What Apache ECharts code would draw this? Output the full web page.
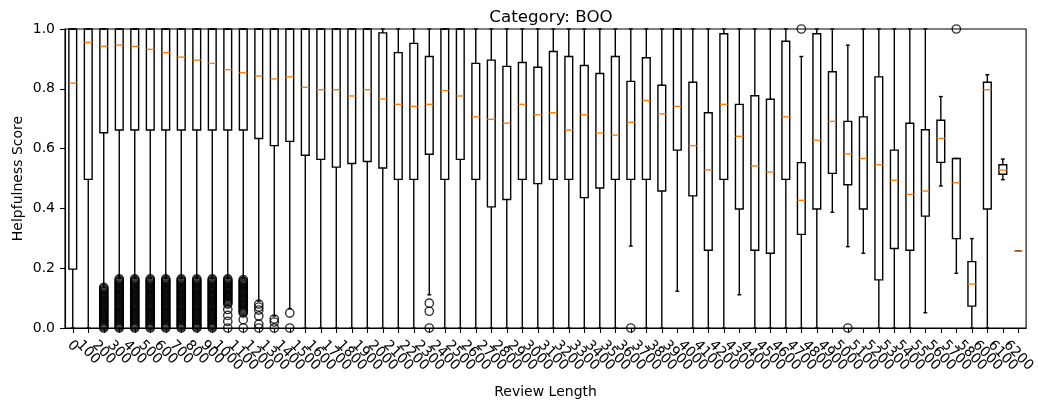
<!DOCTYPE html>
<html>
<head>
<meta charset="utf-8">
<script src="https://cdn.jsdelivr.net/npm/echarts@6/dist/echarts.min.js"></script>
<style>
html,body{margin:0;padding:0;background:#fff;}
#chart{width:1038px;height:407px;}
</style>
</head>
<body>
<div id="chart"></div>
<script>
// Review length categories (5900 is absent in the source)
const categories = ['0','100','200','300','400','500','600','700','800','900',
  '1000','1100','1200','1300','1400','1500','1600','1700','1800','1900',
  '2000','2100','2200','2300','2400','2500','2600','2700','2800','2900',
  '3000','3100','3200','3300','3400','3500','3600','3700','3800','3900',
  '4000','4100','4200','4300','4400','4500','4600','4700','4800','4900',
  '5000','5100','5200','5300','5400','5500','5600','5700','5800','6000',
  '6100','6200'];

// [lower whisker, Q1, median, Q3, upper whisker]
const boxStats = [
  [0, 0.197, 0.819, 1, 1],
  [0, 0.497, 0.955, 1, 1],
  [0.137, 0.653, 0.942, 1, 1],
  [0.167, 0.662, 0.946, 1, 1],
  [0.167, 0.662, 0.942, 1, 1],
  [0.167, 0.662, 0.932, 1, 1],
  [0.167, 0.662, 0.921, 1, 1],
  [0.167, 0.662, 0.906, 1, 1],
  [0.167, 0.662, 0.896, 1, 1],
  [0.167, 0.662, 0.885, 1, 1],
  [0.167, 0.662, 0.864, 1, 1],
  [0.167, 0.662, 0.854, 1, 1],
  [0.09, 0.634, 0.843, 1, 1],
  [0.04, 0.610, 0.833, 1, 1],
  [0.065, 0.624, 0.840, 1, 1],
  [0, 0.578, 0.805, 1, 1],
  [0, 0.564, 0.797, 1, 1],
  [0, 0.538, 0.797, 1, 1],
  [0, 0.550, 0.776, 1, 1],
  [0, 0.557, 0.797, 1, 1],
  [0, 0.535, 0.766, 0.987, 1],
  [0, 0.497, 0.748, 0.921, 1],
  [0, 0.497, 0.741, 0.952, 1],
  [0.111, 0.581, 0.748, 0.908, 1],
  [0, 0.497, 0.794, 1, 1],
  [0, 0.564, 0.776, 1, 1],
  [0, 0.497, 0.706, 0.885, 1],
  [0, 0.405, 0.698, 0.896, 1],
  [0, 0.430, 0.685, 0.875, 1],
  [0, 0.497, 0.748, 0.888, 1],
  [0, 0.483, 0.713, 0.872, 1],
  [0, 0.497, 0.720, 0.925, 1],
  [0, 0.497, 0.662, 0.908, 1],
  [0, 0.436, 0.713, 0.878, 1],
  [0, 0.468, 0.652, 0.851, 1],
  [0, 0.497, 0.645, 0.908, 1],
  [0.274, 0.497, 0.688, 0.825, 1],
  [0, 0.497, 0.761, 0.904, 1],
  [0, 0.458, 0.716, 0.812, 1],
  [0.123, 0.595, 0.741, 1, 1],
  [0, 0.442, 0.610, 0.822, 1],
  [0, 0.260, 0.529, 0.720, 1],
  [0, 0.497, 0.748, 0.984, 1],
  [0.111, 0.398, 0.641, 0.748, 1],
  [0, 0.260, 0.542, 0.777, 1],
  [0, 0.250, 0.522, 0.765, 1],
  [0, 0.497, 0.706, 0.959, 1],
  [0, 0.313, 0.427, 0.553, 0.908],
  [0, 0.398, 0.628, 0.984, 1],
  [0.387, 0.517, 0.691, 0.857, 1],
  [0.272, 0.479, 0.582, 0.691, 0.946],
  [0.250, 0.398, 0.567, 0.706, 1],
  [0, 0.161, 0.546, 0.840, 1],
  [0, 0.266, 0.494, 0.595, 1],
  [0, 0.260, 0.447, 0.685, 1],
  [0.051, 0.374, 0.458, 0.663, 1],
  [0.475, 0.554, 0.634, 0.695, 0.774],
  [0.183, 0.299, 0.486, 0.567, 0.567],
  [0, 0.073, 0.147, 0.222, 0.299],
  [0, 0.398, 0.797, 0.822, 0.847],
  [0.496, 0.514, 0.528, 0.546, 0.565],
  [0.257, 0.257, 0.257, 0.257, 0.257]
];

// Outlier values (dense low-score clusters)
const denseFull = [0, 0.004, 0.008, 0.012, 0.016, 0.02, 0.024, 0.028, 0.032, 0.036,
  0.04, 0.044, 0.048, 0.052, 0.056, 0.06, 0.064, 0.068, 0.072, 0.076, 0.08, 0.084,
  0.088, 0.092, 0.096, 0.1, 0.104, 0.108, 0.112, 0.116, 0.12, 0.124, 0.128, 0.132,
  0.136, 0.14, 0.144, 0.148, 0.152, 0.156, 0.16, 0.164];
const dense200 = [0, 0.004, 0.008, 0.012, 0.016, 0.02, 0.024, 0.028, 0.032, 0.036,
  0.04, 0.044, 0.048, 0.052, 0.056, 0.06, 0.064, 0.068, 0.072, 0.076, 0.08, 0.084,
  0.088, 0.092, 0.096, 0.1, 0.104, 0.108, 0.112, 0.116, 0.12, 0.124, 0.128, 0.132, 0.136];
const dense1000 = [0, 0.022, 0.042, 0.062, 0.08, 0.084, 0.088, 0.092, 0.096, 0.1,
  0.104, 0.108, 0.112, 0.116, 0.12, 0.124, 0.128, 0.132, 0.136, 0.14, 0.144, 0.148,
  0.152, 0.156, 0.16, 0.164];
const dense1100 = [0, 0.028, 0.05, 0.054, 0.058, 0.062, 0.066, 0.07, 0.074, 0.078,
  0.082, 0.086, 0.09, 0.094, 0.098, 0.102, 0.106, 0.11, 0.114, 0.118, 0.122, 0.126,
  0.13, 0.134, 0.138, 0.142, 0.146, 0.15, 0.154, 0.158, 0.162];
const outliers = [
  ['200', dense200], ['300', denseFull], ['400', denseFull], ['500', denseFull],
  ['600', denseFull], ['700', denseFull], ['800', denseFull], ['900', denseFull],
  ['1000', dense1000], ['1100', dense1100],
  ['1200', [0, 0.013, 0.04, 0.06, 0.07, 0.08]],
  ['1300', [0, 0.02, 0.03]],
  ['1400', [0, 0.05]],
  ['2300', [0, 0.056, 0.083]],
  ['3600', [0]],
  ['4700', [1]],
  ['5000', [0]],
  ['5700', [1]]
];

const yTicks = [0, 0.2, 0.4, 0.6, 0.8, 1.0];

const boxData = boxStats.map((s, i) => [i].concat(s));
const outlierData = [];
outliers.forEach(([cat, vals]) => {
  const idx = categories.indexOf(cat);
  vals.forEach(v => outlierData.push([idx, v]));
});

const FONT = 'DejaVu Sans';
const chart = echarts.init(document.getElementById('chart'), null, {renderer: 'canvas'});

const rich = {};
[1, 2, 3, 4].forEach(n => {
  const p = 4.45 * n;
  rich['n' + n] = {fontFamily: FONT, fontSize: 14, color: '#000', padding: [p, 0, 0, p]};
});

chart.setOption({
  animation: false,
  backgroundColor: '#fff',
  title: {
    text: 'Category: BOO',
    left: 546, top: 4, textAlign: 'center',
    textStyle: {fontFamily: FONT, fontSize: 16.7, fontWeight: 'normal', color: '#000'}
  },
  grid: {
    left: 65, right: 11, top: 29, bottom: 79,
    show: true, borderColor: '#000', borderWidth: 1.1, backgroundColor: 'transparent'
  },
  xAxis: {
    type: 'category',
    data: categories,
    boundaryGap: true,
    name: 'Review Length',
    nameLocation: 'middle',
    nameGap: 57,
    nameTextStyle: {fontFamily: FONT, fontSize: 14, color: '#000'},
    axisLine: {show: true, lineStyle: {color: '#000', width: 1.1}},
    axisTick: {show: true, alignWithLabel: true, interval: 0, length: 5, lineStyle: {color: '#000', width: 1.1}},
    axisLabel: {
      interval: 0, rotate: -45, align: 'center', verticalAlign: 'middle', margin: 15,
      fontFamily: FONT, fontSize: 14, color: '#000',
      formatter: v => '{n' + v.length + '|' + v + '}',
      rich: rich
    },
    splitLine: {show: false}
  },
  yAxis: {
    type: 'value',
    min: 0, max: 1, interval: 0.2,
    name: 'Helpfulness Score',
    nameLocation: 'middle',
    nameGap: 40,
    nameMoveOverlap: false,
    nameTextStyle: {fontFamily: FONT, fontSize: 14, color: '#000'},
    axisLine: {show: true, lineStyle: {color: '#000', width: 1.1}},
    axisTick: {show: true, length: 5, lineStyle: {color: '#000', width: 1.1}},
    axisLabel: {
      margin: 10, fontFamily: FONT, fontSize: 14, color: '#000',
      formatter: v => yTicks.some(t => Math.abs(t - v) < 1e-9) ? v.toFixed(1) : ''
    },
    splitLine: {show: false}
  },
  series: [
    {
      type: 'custom',
      data: boxData,
      encode: {x: 0, y: [1, 2, 3, 4, 5]},
      clip: false,
      z: 2,
      renderItem: function (params, api) {
        const x = api.value(0);
        const lo = api.coord([x, api.value(1)]);
        const q1 = api.coord([x, api.value(2)]);
        const md = api.coord([x, api.value(3)]);
        const q3 = api.coord([x, api.value(4)]);
        const hi = api.coord([x, api.value(5)]);
        const band = api.size([1, 0])[0];
        const bw = band * 0.5;
        const cw = bw * 0.5;
        const cx = lo[0];
        const st = () => ({stroke: '#000', lineWidth: 1.4, fill: null});
        return {
          type: 'group',
          children: [
            {type: 'line', shape: {x1: cx, y1: q1[1], x2: cx, y2: lo[1]}, style: st()},
            {type: 'line', shape: {x1: cx, y1: q3[1], x2: cx, y2: hi[1]}, style: st()},
            {type: 'line', shape: {x1: cx - cw / 2, y1: lo[1], x2: cx + cw / 2, y2: lo[1]}, style: st()},
            {type: 'line', shape: {x1: cx - cw / 2, y1: hi[1], x2: cx + cw / 2, y2: hi[1]}, style: st()},
            {type: 'rect', shape: {x: cx - bw / 2, y: q3[1], width: bw, height: q1[1] - q3[1]}, style: st()},
            {type: 'line', shape: {x1: cx - bw / 2, y1: md[1], x2: cx + bw / 2, y2: md[1]},
              style: {stroke: '#ff7f0e', lineWidth: 1.4}}
          ]
        };
      }
    },
    {
      type: 'scatter',
      data: outlierData,
      symbol: 'circle',
      symbolSize: 8.3,
      clip: true,
      z: 3,
      itemStyle: {color: 'rgba(0,0,0,0)', borderColor: '#000', borderWidth: 1.4},
      emphasis: {disabled: true}
    }
  ]
});
</script>
</body>
</html>
